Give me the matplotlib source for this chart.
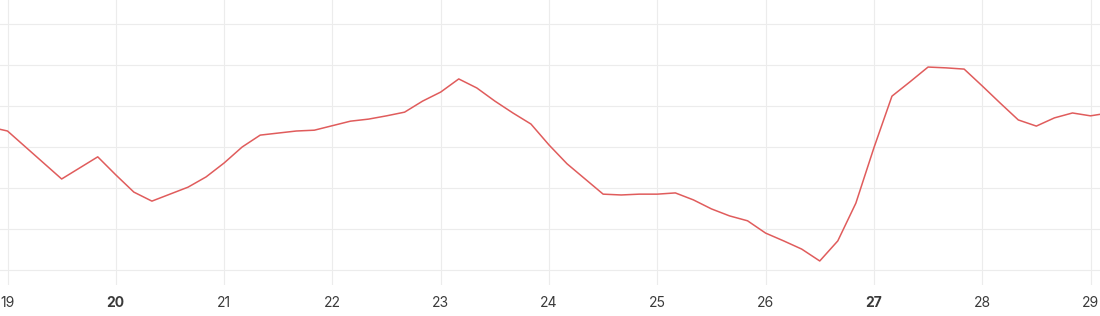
import matplotlib.pyplot as plt
import matplotlib.dates as mdates
import pandas as pd

plt.rcParams["font.family"] = ["Inter", "DejaVu Sans"]

# 4-hourly readings, 18 May 20:00 to 29 May 20:00
start = "2024-05-18 20:00"
values = [
    34.9, 33.9, 30.0, 26.1, 22.2, 24.9, 27.6, 23.2, 19.0, 16.8,
    18.5, 20.2, 22.7, 26.1, 30.0, 32.9, 33.4, 33.9, 34.1, 35.2,
    36.3, 36.8, 37.6, 38.5, 41.2, 43.4, 46.6, 44.4, 41.2, 38.3,
    35.6, 30.5, 25.9, 22.2, 18.5, 18.3, 18.5, 18.5, 18.8, 17.1,
    14.9, 13.2, 12.0, 9.0, 7.1, 5.1, 2.2, 7.1, 16.3, 29.8,
    42.4, 45.9, 49.5, 49.3, 49.0, 44.9, 40.7, 36.6, 35.1, 37.1,
    38.3, 37.6, 38.3,
]
tick_days = [19, 20, 21, 22, 23, 24, 25, 26, 27, 28, 29]
bold_days = [20, 27]  # Mondays

times = pd.date_range(start, periods=len(values), freq="4h")
ticks = [pd.Timestamp(2024, 5, d) for d in tick_days]

fig = plt.figure(figsize=(11, 3.16), dpi=100)
ax = fig.add_axes([0, 31 / 316, 1, 285 / 316])

ax.plot(times, values, color="#e05c5c", lw=1.1, zorder=3)

x0 = mdates.date2num(ticks[0])
ax.set_xlim(x0 - 7.5 / 108.3, x0 + 1092.5 / 108.3)
ax.set_ylim(-15 / 4.1, 270 / 4.1)

ax.set_xticks(ticks)
ax.set_xticklabels([str(d) for d in tick_days])
for lbl, d in zip(ax.get_xticklabels(), tick_days):
    if d in bold_days:
        lbl.set_fontweight("bold")
ax.set_yticks(range(0, 70, 10))
ax.tick_params(axis="both", length=0)
ax.tick_params(axis="x", labelsize=10, labelcolor="#3a3a3a", pad=8)
ax.tick_params(axis="y", labelleft=False)

ax.grid(True, color="#ececec", lw=0.8)
ax.set_axisbelow(True)
for s in ax.spines.values():
    s.set_visible(False)

fig.savefig("out.png", dpi=100)
